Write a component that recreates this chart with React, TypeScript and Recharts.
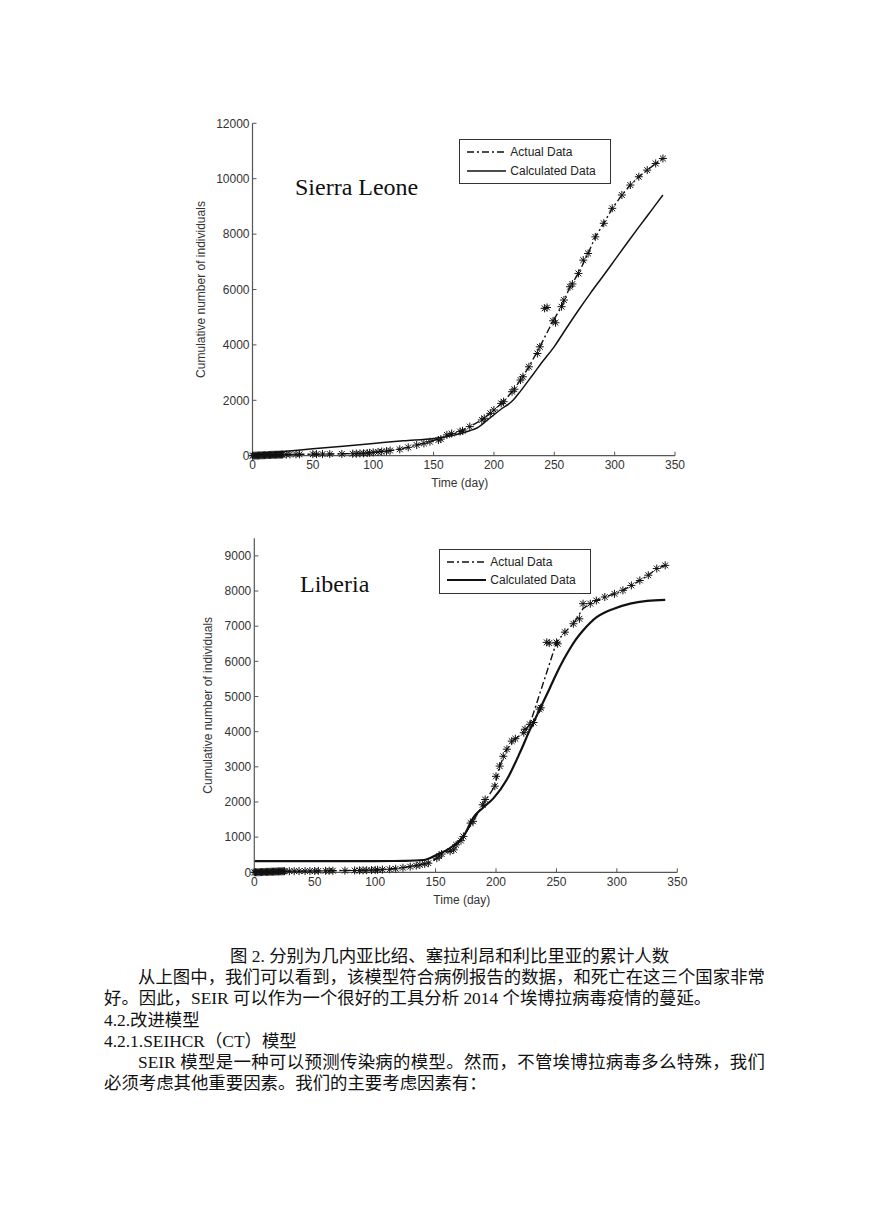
import React from 'react';
import { ComposedChart, Line, XAxis, YAxis, Legend, Label } from 'recharts';

const xTicks = [0, 50, 100, 150, 200, 250, 300, 350];
const slYTicks = [0, 2000, 4000, 6000, 8000, 10000, 12000];
const lbYTicks = [0, 1000, 2000, 3000, 4000, 5000, 6000, 7000, 8000, 9000];

// Sierra Leone - reported cases (asterisks)
const slStarDays = [0, 1, 2, 3, 4, 5, 6, 7, 8, 9, 10, 11, 12, 13, 14, 15, 16, 17, 18, 19, 20, 21, 22, 23, 24, 25,
  28, 31, 36, 39, 50, 53, 58, 64, 74, 83, 86, 89, 92, 95, 97, 100, 104, 107, 111, 114, 122, 129, 136, 142, 147,
  154, 156, 161, 165, 172, 174, 180, 190, 192, 197, 200, 206, 208, 215, 217, 222, 224, 229, 236, 238, 242, 244,
  249, 251, 256, 258, 263, 265, 270, 274, 278, 284, 291, 298, 306, 313, 320, 327, 334, 340];
const slStarValues = [0, 2, 4, 6, 7, 9, 12, 13, 15, 18, 19, 21, 24, 25, 26, 28, 30, 31, 32, 34, 35, 37, 38, 39, 40, 41,
  44, 46, 48, 50, 54, 56, 58, 60, 64, 70, 74, 80, 86, 95, 105, 120, 135, 150, 165, 185, 230, 300, 385, 445, 505,
  565, 600, 750, 800, 870, 900, 1050, 1290, 1350, 1530, 1650, 1890, 1950, 2310, 2400, 2730, 2850, 3210, 3690, 3930, 5320, 5350,
  4870, 4800, 5380, 5620, 6100, 6200, 6580, 7060, 7300, 7900, 8390, 8930, 9410, 9770, 10070, 10310, 10550, 10730];

// Sierra Leone - dash-dot line through the reported data
const slTrendDays = [0, 25, 50, 90, 100, 114, 129, 147, 161, 172, 180, 190, 200, 208, 215, 222, 229, 238, 249, 256,
  263, 270, 278, 284, 291, 298, 306, 313, 320, 327, 334, 340];
const slTrendValues = [0, 41, 54, 80, 120, 185, 300, 505, 720, 870, 1050, 1290, 1650, 1950, 2310, 2730, 3210, 3930, 4870, 5380,
  6100, 6580, 7300, 7900, 8390, 8930, 9410, 9770, 10070, 10310, 10550, 10730];

// Sierra Leone - model
const slCalcDays = [0, 25, 50, 75, 100, 125, 150, 165, 180, 186, 195, 205, 216, 222, 233, 240, 250, 260, 270, 280,
  290, 300, 310, 320, 330, 340];
const slCalcValues = [60, 150, 250, 340, 440, 540, 625, 720, 900, 1000, 1300, 1650, 2010, 2330, 2970, 3380, 3940, 4600,
  5250, 5870, 6460, 7060, 7660, 8250, 8830, 9410];

// Liberia - reported cases (asterisks)
const lbStarDays = [0, 1, 2, 3, 4, 5, 6, 7, 8, 9, 10, 11, 12, 13, 14, 15, 16, 17, 18, 19, 20, 21, 22, 23, 24, 25,
  29, 33, 37, 42, 46, 50, 53, 59, 62, 65, 75, 83, 87, 90, 93, 97, 100, 102, 106, 112, 117, 123, 129, 134, 137, 141,
  144, 151, 153, 155, 162, 165, 167, 171, 173, 179, 181, 189, 191, 199, 200, 203, 206, 209, 213, 216, 223, 224, 228,
  231, 236, 237, 242, 244, 250, 251, 257, 264, 269, 272, 278, 283, 290, 298, 305, 312, 319, 326, 333, 340];
const lbStarValues = [0, 1, 1, 3, 4, 6, 6, 8, 9, 11, 12, 12, 14, 15, 17, 17, 19, 20, 22, 23, 24, 26, 27, 29, 30, 31,
  32, 33, 34, 35, 36, 38, 40, 42, 43, 45, 48, 52, 54, 56, 58, 62, 66, 70, 76, 85, 100, 130, 160, 190, 210, 240,
  260, 400, 460, 520, 600, 640, 780, 900, 1020, 1400, 1450, 1920, 2070, 2450, 2730, 3020, 3300, 3500, 3730, 3800, 3970, 4070, 4210,
  4260, 4640, 4680, 6540, 6520, 6540, 6500, 6830, 7070, 7210, 7640, 7640, 7730, 7830, 7920, 8020, 8160, 8300, 8450, 8640, 8730];

// Liberia - dash-dot line through the reported data
const lbTrendDays = [0, 25, 50, 100, 123, 144, 151, 155, 165, 173, 181, 189, 199, 203, 209, 216, 223, 228, 250, 257,
  264, 272, 278, 283, 290, 298, 305, 312, 319, 326, 333, 340];
const lbTrendValues = [0, 31, 38, 66, 130, 260, 400, 520, 640, 1020, 1450, 1920, 2450, 3020, 3500, 3800, 3970, 4210, 6540, 6830,
  7070, 7500, 7640, 7730, 7830, 7920, 8020, 8160, 8300, 8450, 8640, 8730];

// Liberia - model
const lbCalcDays = [0, 50, 100, 125, 140, 151, 162, 173, 182, 189, 198, 209, 220, 228, 236, 244, 250, 256, 261, 266,
  272, 278, 283, 290, 297, 311, 325, 340];
const lbCalcValues = [320, 320, 320, 325, 350, 500, 690, 1020, 1590, 1830, 2110, 2640, 3420, 4050, 4620, 5200, 5650, 6050,
  6350, 6620, 6880, 7100, 7250, 7390, 7490, 7640, 7720, 7750];

const zip = (days: number[], values: number[]) => days.map((day, i) => ({ day, value: values[i] }));

const axisFont = { fontSize: 12, fill: '#333', fontFamily: "'Liberation Sans', Arial, sans-serif" };
const axisStroke = '#555';

const StarDot = (props: any) => {
  const { cx, cy } = props;
  if (cx == null || cy == null) return null;
  const r = 4;
  const d = 2.9;
  return (
    <g stroke="#111" strokeWidth={1}>
      <line x1={cx - r} y1={cy} x2={cx + r} y2={cy} />
      <line x1={cx} y1={cy - r} x2={cx} y2={cy + r} />
      <line x1={cx - d} y1={cy - d} x2={cx + d} y2={cy + d} />
      <line x1={cx - d} y1={cy + d} x2={cx + d} y2={cy - d} />
    </g>
  );
};

const LegendBox = ({ calcWidth, rowGap, sampleW }: { calcWidth: number; rowGap: number; sampleW: number }) => (
  <div
    style={{
      border: '1px solid #333',
      background: '#fff',
      width: 144,
      padding: '3px 0 3px 6px',
      fontFamily: "'Liberation Sans', Arial, sans-serif",
      fontSize: 12,
      color: '#222',
      lineHeight: `${rowGap}px`,
    }}
  >
    <div style={{ display: 'flex', alignItems: 'center' }}>
      <svg width={sampleW + 4} height={10}>
        <line x1={1} y1={5} x2={sampleW} y2={5} stroke="#111" strokeWidth={1.5} strokeDasharray="7 3 2 3" />
      </svg>
      <span>Actual Data</span>
    </div>
    <div style={{ display: 'flex', alignItems: 'center' }}>
      <svg width={sampleW + 4} height={10}>
        <line x1={1} y1={5} x2={sampleW} y2={5} stroke="#111" strokeWidth={calcWidth} />
      </svg>
      <span>Calculated Data</span>
    </div>
  </div>
);

interface PanelProps {
  left: number;
  top: number;
  title: string;
  titleLeft: number;
  titleTop: number;
  stars: { day: number; value: number }[];
  trend: { day: number; value: number }[];
  calc: { day: number; value: number }[];
  yMax: number;
  yTicks: number[];
  yAxisWidth: number;
  marginRight: number;
  marginBottom: number;
  yLabelX: number;
  legendLeft: number;
  legendTop: number;
  calcWidth: number;
}

const Panel = (p: PanelProps) => (
  <div style={{ position: 'absolute', left: p.left, top: p.top, width: 520, height: 390 }}>
    <ComposedChart
      width={520}
      height={390}
      margin={{ top: 13.3, right: p.marginRight, left: 0, bottom: p.marginBottom }}
    >
      <XAxis
        type="number"
        dataKey="day"
        domain={[0, 350]}
        ticks={xTicks}
        interval={0}
        height={40}
        tickSize={-4}
        tickMargin={9}
        tick={axisFont}
        tickLine={{ stroke: axisStroke }}
        axisLine={{ stroke: axisStroke, strokeWidth: 1.2 }}
      >
        <Label
          content={({ viewBox }: any) => (
            <text
              x={viewBox.x + viewBox.width / 2 - 4}
              y={viewBox.y + 27.5}
              textAnchor="middle"
              dominantBaseline="central"
              style={axisFont}
            >
              Time (day)
            </text>
          )}
        />
      </XAxis>
      <XAxis
        xAxisId="top"
        orientation="top"
        type="number"
        domain={[0, 350]}
        allowDataOverflow
        ticks={xTicks}
        interval={0}
        height={0}
        tickSize={-4}
        tick={false}
        tickLine={{ stroke: axisStroke }}
        axisLine={{ stroke: axisStroke, strokeWidth: 1.2 }}
      />
      <YAxis
        type="number"
        dataKey="value"
        domain={[0, p.yMax]}
        ticks={p.yTicks}
        interval={0}
        width={p.yAxisWidth}
        tickSize={-4}
        tickMargin={7}
        tick={axisFont}
        tickLine={{ stroke: axisStroke }}
        axisLine={{ stroke: axisStroke, strokeWidth: 1.2 }}
      >
        <Label
          content={({ viewBox }: any) => {
            const x = viewBox.x + p.yLabelX;
            const y = viewBox.y + viewBox.height / 2;
            return (
              <text
                x={x}
                y={y}
                transform={`rotate(-90 ${x} ${y})`}
                textAnchor="middle"
                dominantBaseline="central"
                style={axisFont}
              >
                Cumulative number of individuals
              </text>
            );
          }}
        />
      </YAxis>
      <YAxis
        yAxisId="right"
        orientation="right"
        type="number"
        domain={[0, p.yMax]}
        allowDataOverflow
        ticks={p.yTicks}
        interval={0}
        width={0}
        tickSize={-4}
        tick={false}
        tickLine={{ stroke: axisStroke }}
        axisLine={{ stroke: axisStroke, strokeWidth: 1.2 }}
      />
      <Legend
        layout="vertical"
        align="center"
        verticalAlign="middle"
        wrapperStyle={{ left: p.legendLeft, top: p.legendTop, width: 'auto' }}
        content={() => <LegendBox calcWidth={p.calcWidth} rowGap={18.3} sampleW={40} />}
      />
      <Line
        data={p.trend}
        dataKey="value"
        type="linear"
        stroke="#111"
        strokeWidth={1.4}
        strokeDasharray="7 3 2 3"
        dot={false}
        isAnimationActive={false}
      />
      <Line
        data={p.calc}
        dataKey="value"
        type="monotone"
        stroke="#111"
        strokeWidth={p.calcWidth}
        dot={false}
        isAnimationActive={false}
      />
      <Line
        data={p.stars}
        dataKey="value"
        type="linear"
        stroke="none"
        dot={(d: any) => <StarDot key={`s-${d.index}`} {...d} />}
        activeDot={false}
        isAnimationActive={false}
      />
    </ComposedChart>
    <div
      style={{
        position: 'absolute',
        left: p.titleLeft,
        top: p.titleTop,
        fontFamily: "'Liberation Serif', 'Times New Roman', serif",
        fontSize: 24,
        lineHeight: 1,
        color: '#111',
        whiteSpace: 'nowrap',
      }}
    >
      {p.title}
    </div>
  </div>
);

const textLines = [
  { text: '图 2. 分别为几内亚比绍、塞拉利昂和利比里亚的累计人数', x: 230, y: 956, w: 0 },
  { text: '从上图中，我们可以看到，该模型符合病例报告的数据，和死亡在这三个国家非常', x: 138, y: 977, w: 627 },
  { text: '好。因此，SEIR 可以作为一个很好的工具分析 2014 个埃博拉病毒疫情的蔓延。', x: 104, y: 998, w: 0 },
  { text: '4.2.改进模型', x: 104, y: 1020, w: 0 },
  { text: '4.2.1.SEIHCR（CT）模型', x: 104, y: 1041, w: 0 },
  { text: 'SEIR 模型是一种可以预测传染病的模型。然而，不管埃博拉病毒多么特殊，我们', x: 138, y: 1062, w: 627 },
  { text: '必须考虑其他重要因素。我们的主要考虑因素有：', x: 104, y: 1083, w: 0 },
];

export default function App() {
  return (
    <div style={{ position: 'absolute', left: 0, top: 0, width: 869, height: 1228, background: '#fff' }}>
      <Panel
        left={180}
        top={110}
        title="Sierra Leone"
        titleLeft={115}
        titleTop={65}
        stars={zip(slStarDays, slStarValues)}
        trend={zip(slTrendDays, slTrendValues)}
        calc={zip(slCalcDays, slCalcValues)}
        yMax={12000}
        yTicks={slYTicks}
        yAxisWidth={72.5}
        marginRight={25}
        marginBottom={4.3}
        yLabelX={20.5}
        legendLeft={279.3}
        legendTop={29.3}
        calcWidth={1.5}
      />
      <Panel
        left={180}
        top={525}
        title="Liberia"
        titleLeft={120}
        titleTop={46.5}
        stars={zip(lbStarDays, lbStarValues)}
        trend={zip(lbTrendDays, lbTrendValues)}
        calc={zip(lbCalcDays, lbCalcValues)}
        yMax={9500}
        yTicks={lbYTicks}
        yAxisWidth={74.3}
        marginRight={22.7}
        marginBottom={2.7}
        yLabelX={28.5}
        legendLeft={259.3}
        legendTop={24}
        calcWidth={2.2}
      />
      {textLines.map((l, i) => (
        <div
          key={i}
          style={{
            position: 'absolute',
            left: l.x,
            top: l.y - 11,
            width: l.w || undefined,
            height: 22,
            lineHeight: '22px',
            fontSize: 17.4,
            fontFamily: "'Liberation Serif', 'Noto Sans CJK SC', serif",
            color: '#111',
            whiteSpace: 'nowrap',
            textAlign: l.w ? 'justify' : 'left',
            textAlignLast: l.w ? 'justify' : 'auto',
          }}
        >
          {l.text}
        </div>
      ))}
    </div>
  );
}
